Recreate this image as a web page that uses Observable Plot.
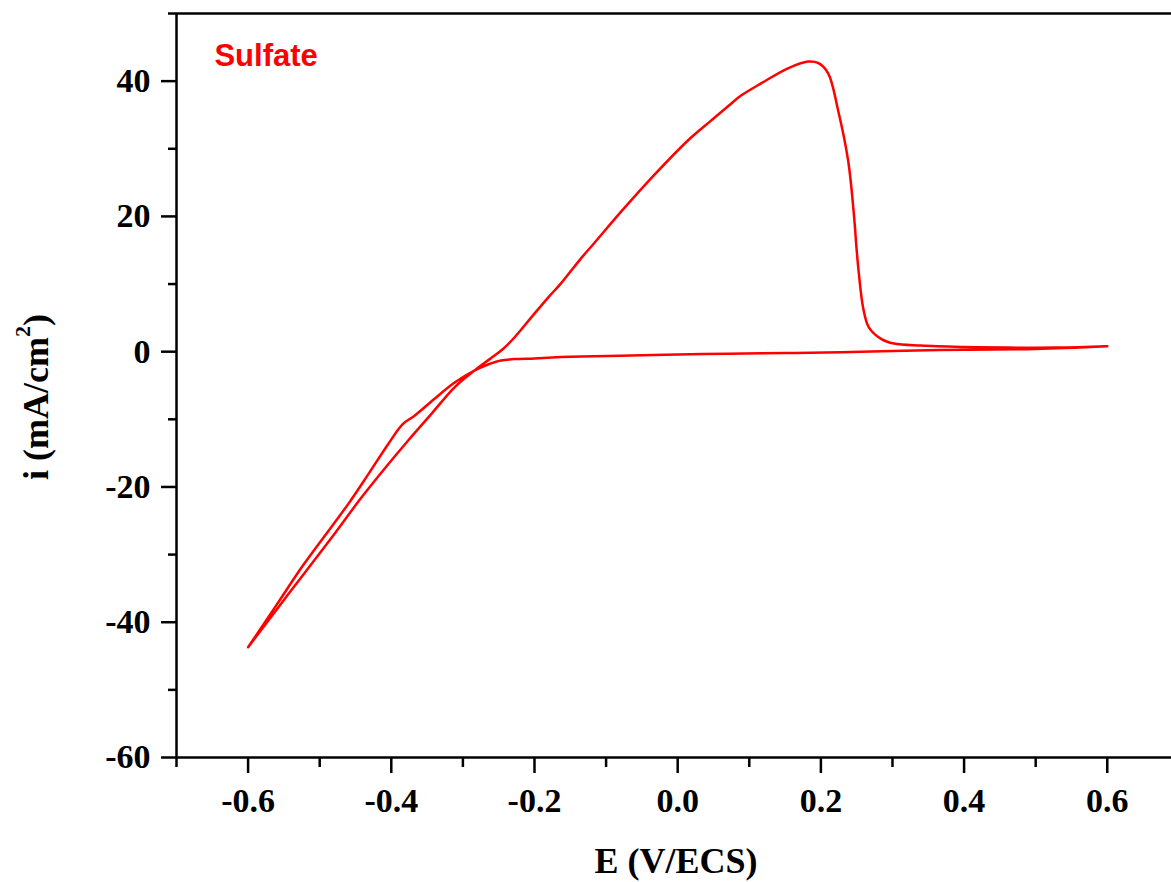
<!DOCTYPE html>
<html>
<head>
<meta charset="utf-8">
<script src="https://cdn.jsdelivr.net/npm/d3@7"></script>
<script src="https://cdn.jsdelivr.net/npm/@observablehq/plot@0.6"></script>
<style>
  html, body { margin: 0; padding: 0; background: #fff; }
  #chart svg { display: block; }
</style>
</head>
<body>
<div id="chart"></div>
<script>
// Forward (anodic) scan: E (V/ECS) and i (mA/cm2)
const forwardE = [-0.600, -0.550, -0.484, -0.442, -0.404, -0.377, -0.344, -0.312, -0.284, -0.260, -0.244, -0.228, -0.205, -0.181, -0.163, -0.135, -0.117, -0.079, -0.033, 0.015, 0.047, 0.075, 0.089, 0.117, 0.154, 0.182, 0.196, 0.210, 0.224, 0.238, 0.246, 0.250, 0.253, 0.259, 0.267, 0.284, 0.302, 0.340, 0.400, 0.461, 0.530, 0.600];
const forwardI = [-43.7, -36.7, -27.6, -21.6, -16.6, -13.2, -9.2, -5.3, -2.8, -0.9, 0.4, 2.1, 5.0, 8.0, 10.1, 13.8, 16.0, 20.7, 26.1, 31.3, 34.2, 36.7, 37.9, 39.7, 41.9, 42.9, 42.7, 41.2, 35.7, 28.3, 20.4, 15.0, 11.6, 6.5, 3.6, 1.9, 1.2, 0.9, 0.7, 0.6, 0.6, 0.8];
// Reverse (cathodic) scan
const reverseE = [0.600, 0.500, 0.400, 0.300, 0.228, 0.150, 0.070, 0.000, -0.080, -0.135, -0.163, -0.200, -0.228, -0.247, -0.265, -0.284, -0.312, -0.340, -0.368, -0.384, -0.404, -0.432, -0.460, -0.522, -0.560, -0.600];
const reverseI = [0.8, 0.4, 0.3, 0.1, -0.1, -0.2, -0.3, -0.4, -0.6, -0.7, -0.8, -1.0, -1.1, -1.3, -1.9, -2.8, -4.6, -7.0, -9.5, -10.7, -13.6, -18.1, -22.5, -31.4, -37.4, -43.7];

const xMajorTicks = [-0.6, -0.4, -0.2, 0.0, 0.2, 0.4, 0.6];
const xMinorTicks = [-0.7, -0.5, -0.3, -0.1, 0.1, 0.3, 0.5];
const yMajorTicks = [-60, -40, -20, 0, 20, 40];
const yMinorTicks = [-50, -30, -10, 10, 30, 50];

const xLabel = "E (V/ECS)";
const seriesLabel = "Sulfate";

const data = [
  ...forwardE.map((e, k) => ({E: e, i: forwardI[k]})),
  ...reverseE.map((e, k) => ({E: e, i: reverseI[k]}))
];

const serif = "'Liberation Serif', 'Times New Roman', serif";
const sans = "'Liberation Sans', Arial, sans-serif";

const chart = Plot.plot({
  width: 1171,
  height: 882,
  marginTop: 13,
  marginBottom: 125,
  marginLeft: 176,
  marginRight: 0,
  style: {fontFamily: serif, background: "white", color: "black", overflow: "visible"},
  x: {domain: [-0.7, 0.6897]},
  y: {domain: [-60, 50]},
  marks: [
    Plot.axisX({ticks: xMajorTicks, tickSize: 16, tickPadding: 14, tickFormat: d => d.toFixed(1),
      fontSize: 34, fontWeight: "bold", strokeWidth: 2.5, label: null}),
    Plot.axisX({ticks: xMinorTicks, tickSize: 10, text: null, strokeWidth: 2.5, label: null}),
    Plot.axisY({ticks: yMajorTicks, tickSize: 15, tickPadding: 11, tickFormat: d => String(d),
      fontSize: 34, fontWeight: "bold", strokeWidth: 2.5, label: null}),
    Plot.axisY({ticks: yMinorTicks, tickSize: 8, text: null, strokeWidth: 2.5, label: null}),
    Plot.ruleX([-0.7], {strokeWidth: 2.5}),
    Plot.ruleY([-60], {strokeWidth: 2.5}),
    Plot.ruleY([50], {strokeWidth: 2.5}),
    Plot.line(data, {x: "E", y: "i", stroke: "#ff0000", strokeWidth: 2.5, curve: "catmull-rom"}),
    Plot.text([seriesLabel], {x: [-0.647], y: [43.7], text: d => d, textAnchor: "start",
      fill: "#ff0000", fontSize: 31, fontWeight: "bold", fontFamily: sans})
  ]
});

document.getElementById("chart").appendChild(chart);

const svg = d3.select(chart);
svg.append("text")
  .attr("x", 676).attr("y", 873)
  .attr("text-anchor", "middle")
  .attr("font-family", serif).attr("font-size", 36).attr("font-weight", "bold")
  .attr("fill", "black")
  .text(xLabel);

const yl = svg.append("text")
  .attr("transform", "translate(48,397) rotate(-90)")
  .attr("text-anchor", "middle")
  .attr("font-family", serif).attr("font-size", 36).attr("font-weight", "bold")
  .attr("fill", "black");
yl.append("tspan").text("i (mA/cm");
yl.append("tspan").attr("dy", -18).attr("font-size", 22).text("2");
yl.append("tspan").attr("dy", 18).text(")");
</script>
</body>
</html>
